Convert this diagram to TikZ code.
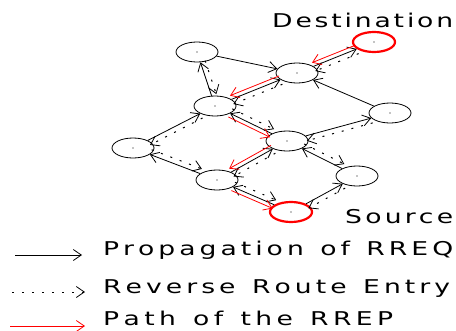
\documentclass[tikz,border=0pt]{standalone}
\usepackage{fontspec}
\setmainfont{DejaVu Sans}[FakeStretch=1.4]
\usetikzlibrary{arrows.meta,shapes.geometric}
\newcommand\offedge[4]{%
  \pgfmathanglebetweenpoints{\pgfpointanchor{#2}{center}}{\pgfpointanchor{#3}{center}}%
  \edef\myang{\pgfmathresult}%
  \draw[#1,transform canvas={shift={(\myang+90:#4)}}] (#2) -- (#3);}
\def\myspr#1{\ifx#1\relax\else\hfil#1\expandafter\myspr\fi}
\newcommand\spreadtxt[3]{\hbox to #1{#2\myspr#3\relax}}
\begin{document}
\begin{tikzpicture}[x=1pt,y=-1pt,
  nd/.style={draw,ellipse,minimum width=42pt,minimum height=20pt,inner sep=0pt,line width=0.8pt},
  rnd/.style={nd,draw=red,line width=2.2pt},
  tip/.style={-{Straight Barb[length=8pt,width=11pt,line width=0.8pt]}},
  req/.style={tip,line width=0.8pt,black},
  rev/.style={tip,line width=1pt,black,dash pattern=on 2pt off 8pt},
  rrep/.style={tip,line width=0.8pt,red},
  lbl/.style={font=\fontsize{19pt}{22pt}\selectfont,anchor=base west,inner sep=0pt}]
\useasboundingbox (0,0) rectangle (456,330);
\node[nd] (A) at (197,52) {};
\node[rnd] (D) at (374,42) {};
\node[nd] (B) at (297,73) {};
\node[nd] (C) at (215,106) {};
\node[nd] (E) at (390,113) {};
\node[nd] (F) at (287,141) {};
\node[nd] (G) at (133,148) {};
\node[nd] (H) at (357,176) {};
\node[nd] (I) at (217,180) {};
\node[rnd] (S) at (291,212) {};
\foreach \n in {A,B,C,D,E,F,G,H,I,S} \fill (\n) circle (0.6pt);
% RREQ propagation
\foreach \a/\b in {S/I,S/H,I/G,I/F,H/F,G/C,F/C,F/E,C/A,C/B,E/B,A/B,B/D}
  \draw[req] (\a) -- (\b);
% reverse route entries
\foreach \a/\b in {I/S,H/S,G/I,F/I,F/H,C/G,C/F,E/F,A/C,B/C,D/B}
  {\offedge{rev}{\a}{\b}{5pt}}
% RREP path
\foreach \a/\b in {D/B,B/C,C/F,F/I,I/S}
  {\offedge{rrep}{\a}{\b}{-4pt}}
\node[lbl] (dl) at (272,27) {\spreadtxt{181pt}{D}{estination}};
\node[lbl] (sl) at (345,223) {\spreadtxt{108pt}{S}{ource}};
% legend
\coordinate (l1a) at (15,255); \coordinate (l1b) at (82,255);
\coordinate (l2a) at (12,292); \coordinate (l2b) at (85,292);
\coordinate (l3a) at (10,326); \coordinate (l3b) at (85,326);
\draw[req] (l1a) -- (l1b);
\draw[rev] (l2a) -- (l2b);
\draw[rrep] (l3a) -- (l3b);
\node[lbl] (t1) at (103,255) {\spreadtxt{350pt}{P}{ropagation~of~RREQ}};
\node[lbl] (t2) at (103,293) {\spreadtxt{347pt}{R}{everse~Route~Entry}};
\node[lbl] (t3) at (103,325) {\spreadtxt{290pt}{P}{ath~of~the~RREP}};
\end{tikzpicture}
\end{document}
